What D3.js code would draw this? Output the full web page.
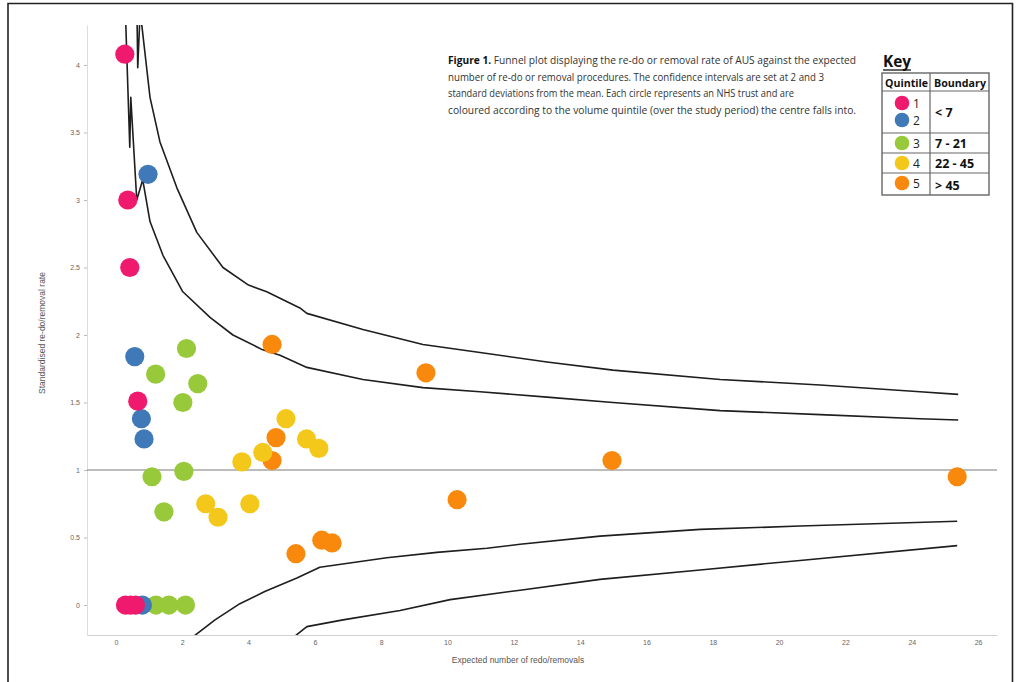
<!DOCTYPE html>
<html>
<head>
<meta charset="utf-8">
<script src="https://cdn.jsdelivr.net/npm/d3@7"></script>
<style>
  body { margin: 0; background: #fff; }
  svg { display: block; }
</style>
</head>
<body>
<svg id="chart" width="1021" height="682"></svg>
<script>
// ---- Data: [expected re-do/removals, standardised rate] per trust, by volume quintile ----
const quintile1 = [[0.27, 4.08], [0.36, 3.00], [0.42, 2.50], [0.66, 1.51], [0.29, 0], [0.44, 0], [0.59, 0]];
const quintile2 = [[0.97, 3.19], [0.57, 1.84], [0.77, 1.38], [0.85, 1.23], [0.80, 0]];
const quintile3 = [[2.13, 1.90], [1.20, 1.71], [2.47, 1.64], [2.02, 1.50], [1.09, 0.95], [2.05, 0.99],
                   [1.45, 0.69], [1.21, 0], [1.60, 0], [2.10, 0]];
const quintile4 = [[2.71, 0.75], [3.08, 0.65], [3.80, 1.06], [4.04, 0.75], [4.43, 1.13], [5.13, 1.38],
                   [5.75, 1.23], [6.12, 1.16]];
const quintile5 = [[4.83, 1.24], [4.71, 1.07], [4.71, 1.93], [9.35, 1.72], [10.29, 0.78], [5.43, 0.38],
                   [6.21, 0.48], [6.52, 0.46], [14.96, 1.07], [25.37, 0.95]];

// Control limits (2 and 3 standard deviations)
const upper2sd = [[0.29, 4.50], [0.30, 4.30], [0.42, 3.39], [0.45, 3.76], [0.63, 3.00], [0.81, 3.15],
                  [1.03, 2.84], [1.42, 2.59], [2.02, 2.32], [2.84, 2.13], [3.53, 2.00], [4.43, 1.89],
                  [4.95, 1.85], [5.76, 1.76], [7.45, 1.67], [9.26, 1.61], [10.98, 1.58], [13.0, 1.54],
                  [14.99, 1.50], [18.22, 1.44], [21.24, 1.41], [24.25, 1.38], [25.4, 1.37]];
const upper3sd = [[0.63, 4.50], [0.66, 3.98], [0.75, 4.50], [0.78, 4.30], [1.03, 3.76], [1.33, 3.43],
                  [1.84, 3.09], [2.44, 2.76], [3.23, 2.50], [4.00, 2.37], [4.55, 2.32], [5.55, 2.20],
                  [5.76, 2.16], [7.45, 2.04], [9.26, 1.93], [10.98, 1.87], [13.0, 1.80], [14.99, 1.74],
                  [18.22, 1.67], [21.24, 1.63], [24.25, 1.58], [25.4, 1.56]];
const lower2sd = [[2.25, -0.25], [2.99, -0.11], [3.74, 0.01], [4.49, 0.10], [5.46, 0.20], [6.15, 0.28],
                  [8.17, 0.35], [9.68, 0.39], [11.19, 0.42], [12.19, 0.45], [14.6, 0.51], [17.62, 0.56],
                  [20.63, 0.585], [25.37, 0.62]];
const lower3sd = [[5.30, -0.25], [5.76, -0.16], [6.85, -0.11], [8.57, -0.04], [10.08, 0.04], [12.19, 0.11],
                  [14.6, 0.19], [17.62, 0.26], [20.63, 0.33], [25.37, 0.44]];

const targetRate = 1;

const xTicks = [0, 2, 4, 6, 8, 10, 12, 14, 16, 18, 20, 22, 24, 26];
const yTicks = [0, 0.5, 1, 1.5, 2, 2.5, 3, 3.5, 4];

const quintileLabels = ["1", "2", "3", "4", "5"];
const boundaryLabels = ["< 7", "7 - 21", "22 - 45", "> 45"];
const quintileColours = ["#ef1a6e", "#3f79b8", "#97c93a", "#f4c81a", "#f8890d"];

const captionLines = [
  ["Figure 1.", " Funnel plot displaying the re-do or removal rate of AUS against the expected"],
  ["", "number of re-do or removal procedures. The confidence intervals are set at 2 and 3"],
  ["", "standard deviations from the mean. Each circle represents an NHS trust and are"],
  ["", "coloured according to the volume quintile (over the study period) the centre falls into."]
];
const captionWidths = [408, 376, 346, 408];

// ---- Layout ----
const svg = d3.select("#chart");
const plot = { left: 87, right: 997, top: 25, bottom: 635 };

const x = d3.scaleLinear().domain([-0.87, 26.57]).range([plot.left, plot.right]);
const y = d3.scaleLinear().domain([-0.222, 4.296]).range([plot.bottom, plot.top]);

// Page frame
svg.append("path")
  .attr("d", "M8,690 L8,3.5 L1012.5,3.5 L1012.5,690")
  .attr("fill", "none").attr("stroke", "#222").attr("stroke-width", 1.6);

svg.append("defs").append("clipPath").attr("id", "plotClip")
  .append("rect")
  .attr("x", plot.left).attr("y", plot.top)
  .attr("width", plot.right - plot.left).attr("height", plot.bottom - plot.top);

// Axes
const yAxis = svg.append("g")
  .attr("transform", `translate(${plot.left},0)`)
  .call(d3.axisLeft(y).tickValues(yTicks).tickFormat(d3.format("~g")).tickSize(3).tickPadding(4).tickSizeOuter(0));
yAxis.select(".domain").attr("stroke", "#dcdcdc");
yAxis.selectAll(".tick line").attr("stroke", "#bbb");
yAxis.selectAll(".tick text").attr("fill", "#666").style("font", "7px 'Liberation Sans', sans-serif");

const xAxis = svg.append("g")
  .attr("transform", `translate(0,${plot.bottom})`)
  .call(d3.axisBottom(x).tickValues(xTicks).tickFormat(d3.format("~g")).tickSize(0).tickPadding(5).tickSizeOuter(0));
xAxis.select(".domain").attr("stroke", "#d0d0d0");
xAxis.selectAll(".tick text").attr("fill", "#666").style("font", "7px 'Liberation Sans', sans-serif");

// Axis titles
svg.append("text")
  .attr("x", 518).attr("y", 663)
  .attr("text-anchor", "middle")
  .attr("fill", "#555")
  .style("font", "8.5px 'Liberation Sans', sans-serif")
  .text("Expected number of redo/removals");

svg.append("text")
  .attr("transform", "translate(45,333) rotate(-90)")
  .attr("text-anchor", "middle")
  .attr("fill", "#555")
  .style("font", "8.5px 'Liberation Sans', sans-serif")
  .text("Standardised re-do/removal rate");

// Target line
svg.append("line")
  .attr("x1", plot.left).attr("x2", plot.right)
  .attr("y1", y(targetRate)).attr("y2", y(targetRate))
  .attr("stroke", "#7a7a7a").attr("stroke-width", 1);

// Control limit curves
const limitLine = d3.line().x(d => x(d[0])).y(d => y(d[1]));
const limits = svg.append("g").attr("clip-path", "url(#plotClip)");
[upper2sd, upper3sd, lower2sd, lower3sd].forEach(series => {
  limits.append("path")
    .attr("d", limitLine(series))
    .attr("fill", "none")
    .attr("stroke", "#1e1e1e")
    .attr("stroke-width", 1.6)
    .attr("stroke-linejoin", "round");
});

// Trusts, drawn highest quintile first so the smallest centres sit on top
const groups = [quintile1, quintile2, quintile3, quintile4, quintile5];
const pointLayer = svg.append("g");
for (let q = groups.length - 1; q >= 0; q--) {
  pointLayer.selectAll(null)
    .data(groups[q])
    .enter().append("circle")
    .attr("cx", d => x(d[0]))
    .attr("cy", d => y(d[1]))
    .attr("r", 9.6)
    .attr("fill", quintileColours[q]);
}

// Caption
const caption = svg.append("g").attr("fill", "#333")
  .style("font-family", "'Open Sans', sans-serif").style("font-size", "10.5px");
captionLines.forEach((line, i) => {
  const t = caption.append("text")
    .attr("x", 448).attr("y", 64 + i * 16.5)
    .attr("textLength", captionWidths[i])
    .attr("lengthAdjust", "spacingAndGlyphs");
  if (line[0]) t.append("tspan").attr("font-weight", "bold").attr("fill", "#111").text(line[0]);
  t.append("tspan").text(line[1]);
});

// Key
const key = svg.append("g");
key.append("text")
  .attr("x", 883).attr("y", 67)
  .attr("fill", "#111")
  .style("font", "bold 16px 'Open Sans', sans-serif")
  .attr("textLength", 28).attr("lengthAdjust", "spacingAndGlyphs")
  .text("Key");
key.append("line").attr("x1", 883).attr("x2", 911).attr("y1", 70).attr("y2", 70)
  .attr("stroke", "#111").attr("stroke-width", 1.3);

const tbl = { left: 882, mid: 930, right: 989, rows: [73, 91, 133, 153, 173, 195] };
key.append("rect")
  .attr("x", tbl.left).attr("y", tbl.rows[0])
  .attr("width", tbl.right - tbl.left).attr("height", tbl.rows[5] - tbl.rows[0])
  .attr("fill", "#fff").attr("stroke", "#666").attr("stroke-width", 1.4);
key.append("line").attr("x1", tbl.mid).attr("x2", tbl.mid)
  .attr("y1", tbl.rows[0]).attr("y2", tbl.rows[5]).attr("stroke", "#666").attr("stroke-width", 1.2);
tbl.rows.slice(1, 5).forEach(r => {
  key.append("line").attr("x1", tbl.left).attr("x2", tbl.right)
    .attr("y1", r).attr("y2", r).attr("stroke", "#666").attr("stroke-width", 1.2);
});

const headFont = "bold 11px 'Open Sans', sans-serif";
key.append("text").attr("x", 885).attr("y", 87).style("font", headFont).attr("fill", "#111")
  .attr("textLength", 43).attr("lengthAdjust", "spacingAndGlyphs").text("Quintile");
key.append("text").attr("x", 934).attr("y", 87).style("font", headFont).attr("fill", "#111")
  .attr("textLength", 52).attr("lengthAdjust", "spacingAndGlyphs").text("Boundary");

const keyCircleY = [103, 120, 143, 163, 183];
quintileLabels.forEach((lab, i) => {
  key.append("circle").attr("cx", 902).attr("cy", keyCircleY[i]).attr("r", 7.3)
    .attr("fill", quintileColours[i]);
  key.append("text").attr("x", 913).attr("y", keyCircleY[i] + 5)
    .attr("fill", "#222").style("font", "12px 'Open Sans', sans-serif").text(lab);
});

const boundaryY = [117, 148, 168, 190];
boundaryLabels.forEach((lab, i) => {
  key.append("text").attr("x", 935).attr("y", boundaryY[i])
    .attr("fill", "#111").style("font", "bold 12.5px 'Open Sans', sans-serif").text(lab);
});
</script>
</body>
</html>
